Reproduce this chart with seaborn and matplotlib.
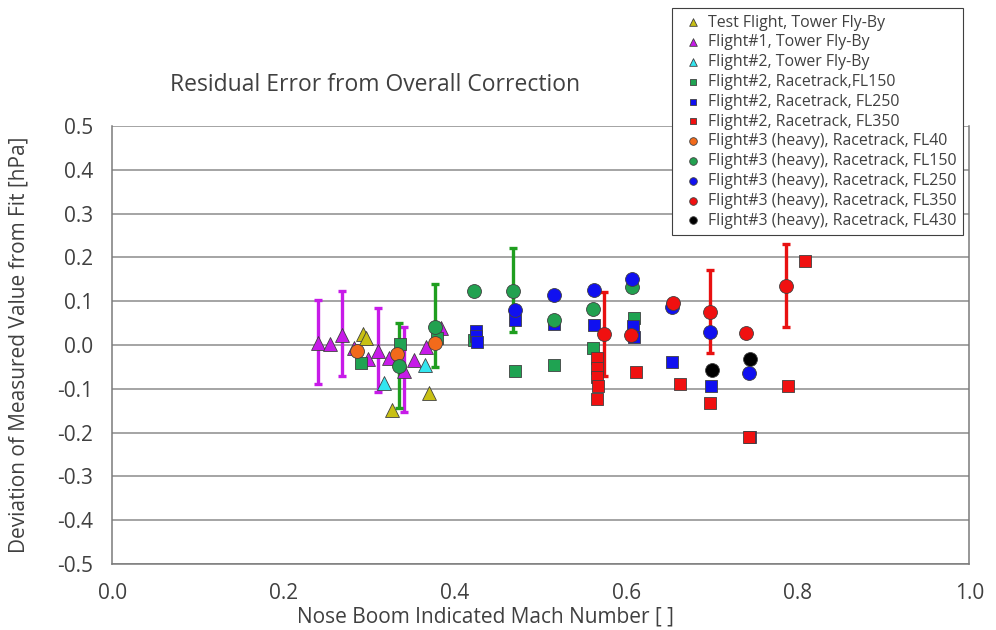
import numpy as np
import pandas as pd
import matplotlib
matplotlib.use("Agg")
import matplotlib.pyplot as plt
import seaborn as sns

# ---- data ----
series_names = [
    "Test Flight, Tower Fly-By",
    "Flight#1, Tower Fly-By",
    "Flight#2, Tower Fly-By",
    "Flight#2, Racetrack,FL150",
    "Flight#2, Racetrack, FL250",
    "Flight#2, Racetrack, FL350",
    "Flight#3 (heavy), Racetrack, FL40",
    "Flight#3 (heavy), Racetrack, FL150",
    "Flight#3 (heavy), Racetrack, FL250",
    "Flight#3 (heavy), Racetrack, FL350",
    "Flight#3 (heavy), Racetrack, FL430",
]

test_tower_x = [0.293, 0.296, 0.327, 0.370]
test_tower_y = [0.025, 0.017, -0.149, -0.109]

f1_tower_x = [0.240, 0.254, 0.268, 0.282, 0.298, 0.310, 0.323, 0.340, 0.352, 0.366, 0.384]
f1_tower_y = [0.004, 0.002, 0.023, -0.008, -0.032, -0.013, -0.029, -0.060, -0.034, -0.005, 0.038]

f2_tower_x = [0.317, 0.365]
f2_tower_y = [-0.086, -0.045]

f2_fl150_x = [0.290, 0.336, 0.379, 0.422, 0.470, 0.516, 0.561, 0.609]
f2_fl150_y = [-0.042, 0.002, 0.015, 0.012, -0.059, -0.045, -0.006, 0.061]

f2_fl250_x = [0.425, 0.424, 0.426, 0.470, 0.516, 0.562, 0.608, 0.609, 0.653, 0.699, 0.744]
f2_fl250_y = [0.033, 0.020, 0.007, 0.056, 0.048, 0.046, 0.044, 0.018, -0.038, -0.094, -0.211]

f2_fl350_x = [0.566, 0.566, 0.566, 0.567, 0.566, 0.611, 0.662, 0.697, 0.743, 0.789, 0.808]
f2_fl350_y = [-0.030, -0.052, -0.074, -0.093, -0.123, -0.061, -0.089, -0.132, -0.210, -0.094, 0.191]

f3_fl40_x = [0.286, 0.332, 0.377]
f3_fl40_y = [-0.013, -0.021, 0.004]

f3_fl150_x = [0.335, 0.377, 0.422, 0.468, 0.515, 0.561, 0.606]
f3_fl150_y = [-0.047, 0.042, 0.124, 0.124, 0.056, 0.082, 0.133]

f3_fl250_x = [0.470, 0.516, 0.562, 0.606, 0.653, 0.697, 0.743]
f3_fl250_y = [0.080, 0.114, 0.126, 0.150, 0.086, 0.030, -0.065]

f3_fl350_x = [0.574, 0.605, 0.654, 0.697, 0.740, 0.786]
f3_fl350_y = [0.024, 0.023, 0.095, 0.076, 0.027, 0.135]

f3_fl430_x = [0.700, 0.744]
f3_fl430_y = [-0.057, -0.033]

# error bars (x, centre, half-width)
err_magenta_x = [0.240, 0.268, 0.310, 0.340]
err_magenta_y = [0.007, 0.027, -0.011, -0.057]
err_magenta_e = [0.095, 0.097, 0.096, 0.097]

err_green_x = [0.335, 0.377, 0.468]
err_green_y = [-0.046, 0.044, 0.125]
err_green_e = [0.097, 0.095, 0.096]

err_red_x = [0.574, 0.697, 0.786]
err_red_y = [0.026, 0.077, 0.136]
err_red_e = [0.096, 0.095, 0.095]

# ---- styling ----
sns.set_style("white")
plt.rcParams['font.family'] = ['Open Sans', 'DejaVu Sans']

series = [
    (test_tower_x, test_tower_y, "^", "#c8c014", 100),
    (f1_tower_x, f1_tower_y, "^", "#c71be8", 100),
    (f2_tower_x, f2_tower_y, "^", "#33e6f0", 100),
    (f2_fl150_x, f2_fl150_y, "s", "#1fa352", 72),
    (f2_fl250_x, f2_fl250_y, "s", "#1010f0", 72),
    (f2_fl350_x, f2_fl350_y, "s", "#f01010", 72),
    (f3_fl40_x, f3_fl40_y, "o", "#f26a1b", 100),
    (f3_fl150_x, f3_fl150_y, "o", "#22a150", 100),
    (f3_fl250_x, f3_fl250_y, "o", "#1010f0", 100),
    (f3_fl350_x, f3_fl350_y, "o", "#f01010", 100),
    (f3_fl430_x, f3_fl430_y, "o", "#000000", 100),
]

fig = plt.figure(figsize=(9.96, 6.3), dpi=100)
ax = fig.add_axes([0.1127, 0.1048, 0.8604, 0.6952])

# error bars first, under the markers
for ex, ey, ee, c in [(err_magenta_x, err_magenta_y, err_magenta_e, "#c71be8"),
                      (err_green_x, err_green_y, err_green_e, "#1f9e1f"),
                      (err_red_x, err_red_y, err_red_e, "#e81010")]:
    ax.errorbar(ex, ey, yerr=ee, fmt="none", ecolor=c, elinewidth=2.4,
                capsize=3, capthick=2.4, zorder=2)

for (xs, ys, mk, col, sz), name in zip(series, series_names):
    sns.scatterplot(x=xs, y=ys, marker=mk, color=col, s=sz, edgecolor="#404040",
                    linewidth=0.6, label=name, ax=ax, zorder=3)

ax.set_xlim(0.0, 1.0)
ax.set_ylim(-0.5, 0.5)
ax.set_xticks(np.arange(0.0, 1.01, 0.2))
ax.set_yticks(np.arange(-0.5, 0.51, 0.1))
ax.set_xticklabels([f"{v:.1f}" for v in np.arange(0.0, 1.01, 0.2)])
ax.set_yticklabels([f"{v:.1f}" if abs(v) > 1e-9 else "0.0" for v in np.arange(-0.5, 0.51, 0.1)])
ax.yaxis.grid(True, color="#8c8c8c", linewidth=1.1)
ax.set_axisbelow(True)
for side in ["left", "bottom", "right"]:
    ax.spines[side].set_color("#7a7a7a")
    ax.spines[side].set_linewidth(1.1)
ax.spines["top"].set_visible(False)
ax.tick_params(axis="both", which="both", direction="out", length=5, width=1,
               color="#7a7a7a", labelsize=15, labelcolor="#404040")
ax.tick_params(axis="x", pad=9)
ax.tick_params(axis="y", pad=9)

ax.set_xlabel("Nose Boom Indicated Mach Number [ ]", fontsize=15, color="#404040")
ax.xaxis.set_label_coords(0.436, -0.098)
ax.set_ylabel("Deviation of Measured Value from Fit [hPa]", fontsize=15, color="#404040")
ax.yaxis.set_label_coords(-0.097, 0.5)

fig.text(375 / 996, 1 - 85 / 630, "Residual Error from Overall Correction",
         ha="center", va="center", fontsize=16.5, color="#404040")

handles, labels = ax.get_legend_handles_labels()
ax.legend(handles, labels, loc="upper left", bbox_to_anchor=(0.675, 0.987),
          bbox_transform=fig.transFigure, borderaxespad=0, frameon=True,
          fancybox=False, edgecolor="#404040", framealpha=1, fontsize=11.4,
          markerscale=0.55, handletextpad=0.05, handlelength=1.8,
          labelspacing=0.24, borderpad=0.4, labelcolor="#404040")
ax.get_legend().get_frame().set_linewidth(0.8)

fig.savefig("out.png", dpi=100)
